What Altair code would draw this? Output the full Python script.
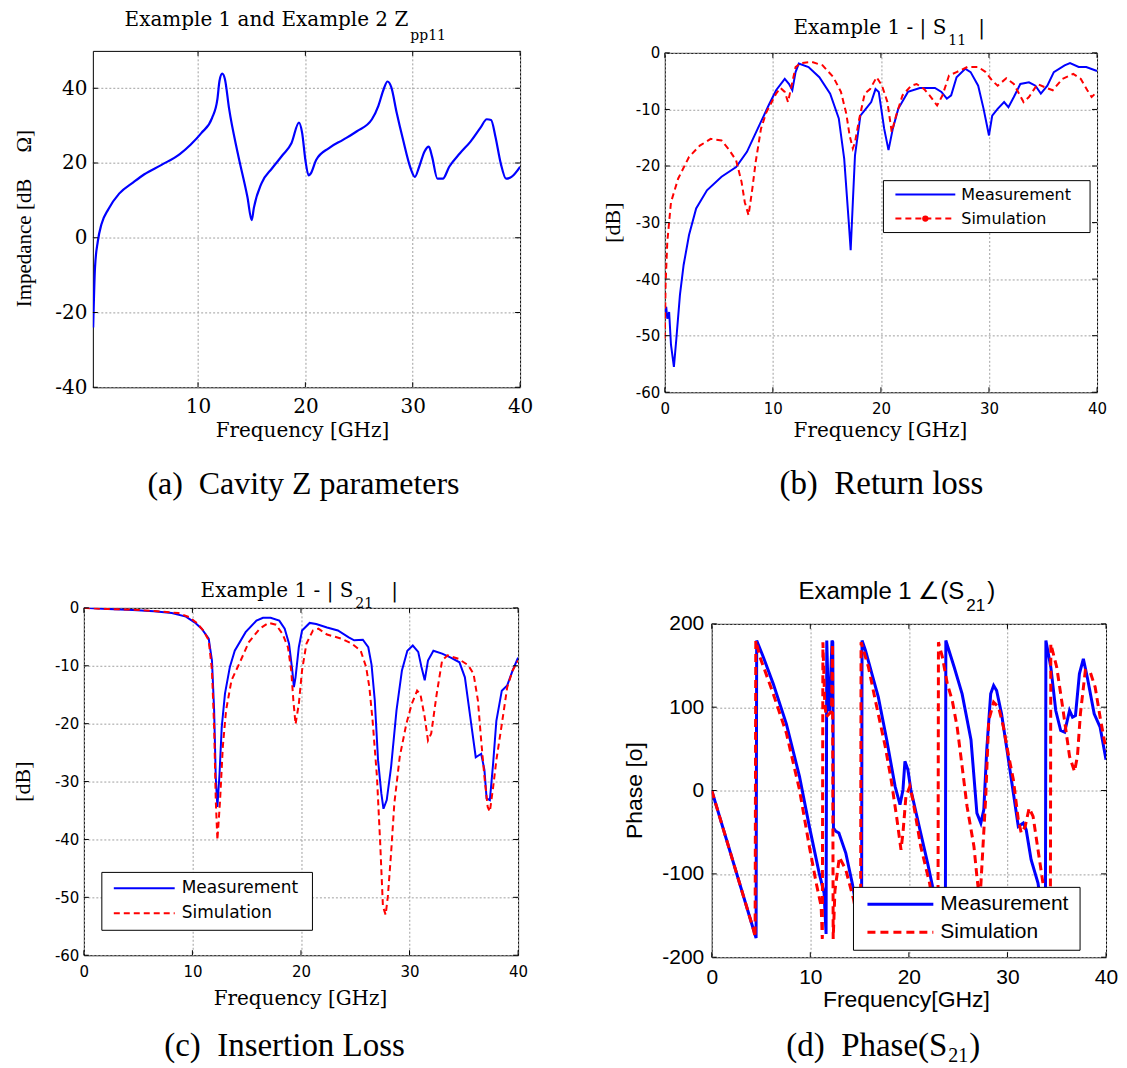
import altair as alt
import pandas as pd

# ---------------- data ----------------
# (a) Cavity Z parameters
A_freq = [0.23, 0.4, 0.66, 1.0, 1.66, 2.65, 4.0, 5.0, 6.6, 8.3, 9.3, 10.3, 11.3, 11.8, 12.0, 12.25, 12.5, 12.9,
          13.7, 14.6, 15.0, 15.2, 15.9, 16.9, 17.9, 18.7, 19.4, 19.7, 20.0, 20.3, 20.5, 21.0, 22.2, 23.5, 24.8,
          26.2, 26.8, 27.3, 27.65, 28.0, 28.5, 29.1, 29.8, 30.2, 30.6, 31.1, 31.5, 31.8, 32.3, 32.8, 33.4, 34.4,
          35.4, 36.3, 36.9, 37.3, 37.7, 38.2, 38.7, 39.2, 40.0]
A_imp = [-24, -8, -1, 3.6, 7.7, 11.8, 14.9, 17, 19.5, 22.4, 24.9, 28, 32, 37, 42, 43.9, 42.5, 34.4,
         22.6, 10.9, 4.7, 8, 14.5, 18.6, 22.2, 25.3, 30.8, 28, 20.8, 16.7, 17.2, 20.8, 24, 26.2, 28.5,
         31.7, 35.3, 39.8, 41.8, 40.3, 33.5, 26.2, 18.6, 16.3, 19, 23.1, 24.4, 21.7, 15.8, 15.8, 19, 22.6,
         25.8, 29.4, 31.7, 31.5, 27.1, 19.9, 15.8, 16.3, 19]

# (b) Return loss |S11|
B_meas_freq = [0, 0.13, 0.23, 0.4, 0.57, 0.84, 1.07, 1.4, 1.74, 2.24, 2.9, 3.9, 5.25, 6.6, 7.6, 8.6, 9.6, 10.3,
               11.1, 11.5, 11.8, 12.1, 12.4, 13.3, 14.3, 15.3, 16.1, 16.6, 17.0, 17.2, 17.4, 17.6, 18.1, 18.6,
               19.1, 19.5, 19.8, 20.3, 20.7, 21.1, 21.6, 22.5, 23.6, 25.0, 25.6, 26.1, 26.5, 27.0, 27.8, 28.3,
               29.0, 29.5, 30.0, 30.3, 30.8, 31.4, 31.8, 32.3, 32.9, 33.7, 34.3, 34.8, 35.4, 36.0, 37.0, 37.5,
               38.3, 39.0, 40]
B_meas_db = [-45.8, -44.9, -47, -45.8, -51.6, -55.5, -50.5, -42.8, -37.5, -32.2, -27.5, -24.3, -21.9, -20.2,
             -17.5, -13.4, -9.3, -6.6, -4.6, -5.5, -6.6, -3.4, -1.9, -2.5, -4.3, -7.2, -11.6, -18.7, -29.3,
             -34.9, -26.4, -18.1, -11.1, -9.9, -8.7, -6.4, -6.9, -13.4, -17.2, -13.4, -9.9, -6.9, -6.2, -6.2,
             -6.9, -8.1, -7.5, -4.3, -2.8, -3.4, -5.8, -9.9, -14.6, -11.1, -9.9, -8.7, -9.6, -7.8, -5.5, -5.2,
             -5.8, -7.2, -5.8, -3.4, -2.2, -1.8, -2.5, -2.5, -3.2]
B_sim_freq = [0, 0.07, 0.23, 0.57, 1.24, 2.24, 3.24, 4.25, 5.25, 5.9, 6.6, 7.1, 7.4, 7.75, 8.1, 8.4, 8.9, 9.4,
              10.3, 10.7, 11.1, 11.4, 11.8, 12.1, 12.6, 13.6, 14.6, 15.6, 16.3, 16.8, 17.1, 17.4, 17.6, 18.0,
              18.5, 19.0, 19.6, 20.1, 20.6, 21.0, 21.4, 22.0, 22.8, 23.3, 24.0, 24.5, 25.2, 25.7, 26.3, 27.0,
              28.0, 29.0, 29.7, 30.3, 30.8, 31.6, 32.3, 33.2, 33.7, 34.5, 35.2, 35.9, 36.8, 37.8, 38.5, 39.1,
              39.5, 40]
B_sim_db = [-50.5, -41, -33.4, -26.4, -22.2, -18.4, -16.4, -15.2, -15.5, -17, -19, -22.8, -26.4, -28.7, -24,
            -19.4, -13.4, -10.5, -7.2, -6.2, -6.9, -8.7, -5.2, -2.5, -1.8, -1.6, -2.2, -4.3, -6.9, -10.8,
            -14.6, -16.9, -15.8, -11.6, -7.2, -6.4, -4.3, -5.8, -8.7, -14, -11.1, -7.5, -5.8, -5.5, -6.4,
            -7.5, -9.3, -7.5, -4, -3.4, -2.5, -2.5, -3.4, -4.9, -5.8, -4.5, -5.5, -8.7, -7.8, -5.5, -6.1,
            -6.6, -4.6, -3.7, -4.6, -6.6, -7.8, -6.9]

# (c) Insertion loss |S21|
C_meas_freq = [0, 2.2, 4.5, 6.45, 8.1, 9.4, 10.2, 10.85, 11.5, 11.8, 12.0, 12.15, 12.3, 12.5, 12.7, 13.0, 13.45,
               13.9, 14.9, 15.9, 16.5, 17.2, 18.0, 18.5, 18.9, 19.2, 19.35, 19.5, 19.8, 20.1, 20.8, 21.4, 22.4,
               23.4, 24.4, 24.9, 25.7, 26.2, 26.5, 26.8, 27.1, 27.4, 27.6, 27.9, 28.3, 28.8, 29.3, 29.8, 30.3,
               30.8, 31.1, 31.4, 31.7, 32.2, 33.0, 33.8, 34.6, 35.1, 35.6, 36.1, 36.6, 36.9, 37.1, 37.4, 37.7,
               38.0, 38.5, 39.0, 39.5, 40.0]
C_meas_db = [0, -0.2, -0.35, -0.6, -0.9, -1.5, -2.5, -3.6, -5.3, -9.1, -17.7, -29.2, -34.4, -28.6, -20.6,
             -14.8, -10.2, -7.4, -4.2, -2.2, -1.7, -1.7, -2.2, -3.6, -6.2, -10.8, -13.7, -12, -6.8, -3.9,
             -2.6, -2.8, -3.4, -3.9, -5.1, -5.6, -5.5, -6.8, -9.8, -16, -26.3, -32, -34.7, -33.2, -27.5,
             -17.7, -10.8, -7.4, -6.5, -7.6, -10.2, -12.5, -9.1, -7.4, -7.9, -8.6, -9.4, -12, -18.9, -25.8,
             -25.2, -28, -32.9, -33.2, -26.9, -19.5, -14.3, -13.4, -10.8, -8.6]
C_sim_freq = [0, 2.2, 4.5, 6.8, 8.7, 9.7, 10.4, 11.0, 11.5, 11.8, 12.0, 12.15, 12.3, 12.55, 12.8, 13.1, 13.6,
              14.3, 15.2, 16.2, 17.0, 17.7, 18.3, 18.8, 19.1, 19.3, 19.5, 19.8, 20.1, 20.5, 21.1, 21.6, 22.4,
              23.7, 24.7, 25.5, 26.0, 26.3, 26.6, 27.0, 27.3, 27.55, 27.8, 28.0, 28.3, 28.6, 29.1, 29.7, 30.2,
              30.7, 31.0, 31.4, 31.7, 32.0, 32.5, 33.0, 33.5, 34.5, 35.4, 35.9, 36.3, 36.6, 36.9, 37.2, 37.4,
              37.7, 38.0, 38.5, 39.0, 39.5, 40.0]
C_sim_db = [0, -0.2, -0.3, -0.6, -0.9, -1.6, -2.6, -3.9, -5.6, -10.8, -20.6, -33.2, -40.1, -33.2, -24, -17.7,
            -12.5, -9.7, -5.9, -3.6, -2.6, -2.9, -4.5, -6.8, -10.8, -16, -20.1, -16.6, -10.8, -6.2, -3.9,
            -3.6, -4.6, -5.3, -6.2, -7.4, -10.2, -13.7, -19.5, -29.2, -40.7, -51.6, -53, -49.9, -42.4,
            -33.8, -25.7, -20.1, -16.6, -14.3, -14.9, -18.9, -22.9, -21.7, -14.9, -9.1, -8.2, -8.8, -9.9,
            -11.4, -16, -22.9, -29.2, -34.4, -35.2, -31, -26.3, -20.1, -13.7, -10.8, -9.1]

# (d) Phase(S21)
D_meas_freq = [0, 4.24, 4.5, 4.56, 5.24, 6.24, 7.57, 8.9, 9.9, 10.9, 11.4, 11.6, 11.67, 11.8, 11.95, 12.2,
               12.28, 12.35, 12.6, 12.9, 13.6, 14.25, 15.2, 15.25, 15.6, 16.25, 16.9, 17.75, 18.6, 19.1, 19.4,
               19.6, 19.9, 20.2, 21.2, 21.9, 22.4, 23.7, 23.75, 24.6, 25.4, 26.3, 26.9, 27.3, 27.6, 27.9,
               28.3, 28.6, 28.9, 29.4, 29.9, 30.6, 31.1, 31.6, 31.9, 32.4, 33.1, 33.85, 33.9, 34.4, 34.9,
               35.4, 35.8, 36.3, 36.6, 36.9, 37.3, 37.7, 38.1, 38.8, 39.4, 40]
D_meas_deg = [0, -167, -177, 180, 160, 128, 80, 17, -43, -99, -123, -172, 180, 120, 95, 180, 178, -45, -49,
              -51, -75, -111, -176, 180, 168, 140, 112, 61, 5, -17, 1, 35, 25, 1, -51, -87, -115, -178, 180,
              148, 116, 61, -27, -39, -23, 49, 116, 126, 120, 92, 53, -3, -43, -39, -47, -83, -111, -178,
              180, 148, 96, 72, 70, 96, 88, 90, 140, 158, 136, 92, 76, 37]
D_sim_freq = [0, 4.24, 4.4, 4.47, 4.9, 6.24, 7.57, 8.9, 9.9, 10.6, 11.1, 11.22, 11.28, 11.45, 11.6, 12.15,
              12.25, 12.32, 12.5, 12.95, 13.6, 14.4, 15.1, 15.15, 15.9, 16.6, 17.6, 18.2, 18.75, 19.2, 19.4,
              19.7, 20.1, 20.4, 21.2, 22.1, 22.95, 23.0, 23.4, 23.9, 24.4, 24.9, 25.4, 25.9, 26.6, 26.9,
              27.2, 27.8, 28.1, 28.6, 29.1, 29.6, 30.0, 30.6, 31.1, 31.4, 31.8, 32.2, 32.6, 33.1, 33.6,
              34.35, 34.4, 35.0, 35.6, 36.3, 36.8, 37.1, 37.4, 37.9, 38.4, 38.9, 39.4, 40]
D_sim_deg = [0, -167, -176, 180, 160, 116, 69, 1, -67, -111, -139, -178, 178, 110, 88, 95, 176, -178, -120,
             -80, -95, -131, -178, 178, 148, 108, 53, 13, -31, -71, -51, -7, 5, -11, -67, -111, -178, 178,
             160, 128, 108, 76, 29, -19, -67, -103, -135, -7, 84, 106, 100, 76, 49, 13, -35, -51, -43, -21,
             -31, -71, -111, -178, 176, 148, 100, 41, 23, 41, 92, 144, 142, 124, 88, 49]

# tick values
A_X_TICKS = [10, 20, 30, 40]
A_Y_TICKS = [-40, -20, 0, 20, 40]
X_TICKS = [0, 10, 20, 30, 40]
DB_TICKS = [-60, -50, -40, -30, -20, -10, 0]
PH_TICKS = [-200, -100, 0, 100, 200]

# ---------------- styling ----------------
BLUE = "#0000ff"
RED = "#ff0000"
SERIF_W = "DejaVu Serif"
SANS_W = "DejaVu Sans"
SANS = "Liberation Sans"
TIMES = "Liberation Serif"
NB = "\u00a0"

ONE = pd.DataFrame({"k": [0]})


def text(s, x, y, size, font, align="center", baseline="alphabetic", angle=0):
    return alt.Chart(ONE).mark_text(
        text=s, font=font, fontSize=size, align=align, baseline=baseline, angle=angle, color="black"
    ).encode(x=alt.value(x), y=alt.value(y))


def axis(values, font, size, pad):
    return alt.Axis(values=values, title=None, labelFont=font, labelFontSize=size, labelColor="black",
                    labelPadding=pad, labelFlush=False, labelOverlap=False, labelBound=False,
                    ticks=False, domain=False, grid=True, gridColor="#a0a0a0", gridDash=[2, 2],
                    gridWidth=1, labelExpr="datum.value + ''")


def xenc(field, dom, ax):
    return alt.X(field, scale=alt.Scale(domain=dom, nice=False, zero=False), axis=ax)


def yenc(field, dom, ax):
    return alt.Y(field, scale=alt.Scale(domain=dom, nice=False, zero=False), axis=ax)


def series(freq, vals, xdom, ydom, xaxis, yaxis, color, width, dash=None, interp="linear"):
    df = pd.DataFrame({"f": freq, "v": vals})
    df["i"] = range(len(df))
    kw = dict(color=color, strokeWidth=width, interpolate=interp, clip=True)
    if dash:
        kw["strokeDash"] = dash
    return alt.Chart(df).mark_line(**kw).encode(
        x=xenc("f:Q", xdom, xaxis), y=yenc("v:Q", ydom, yaxis), order="i:Q")


def inward_ticks(xvals, yvals, xdom, ydom, xaxis, yaxis, W, H, L=5):
    dx = pd.DataFrame({"f": xvals})
    dy = pd.DataFrame({"v": yvals})
    st = dict(color="black", strokeWidth=1)
    return [
        alt.Chart(dx).mark_rule(**st).encode(x=xenc("f:Q", xdom, xaxis), y=alt.value(0), y2=alt.value(L)),
        alt.Chart(dx).mark_rule(**st).encode(x=xenc("f:Q", xdom, xaxis), y=alt.value(H - L), y2=alt.value(H)),
        alt.Chart(dy).mark_rule(**st).encode(y=yenc("v:Q", ydom, yaxis), x=alt.value(0), x2=alt.value(L)),
        alt.Chart(dy).mark_rule(**st).encode(y=yenc("v:Q", ydom, yaxis), x=alt.value(W - L), x2=alt.value(W)),
    ]


def legend(box, lx, ys, tx, size, font, lw, dash, dot=False):
    x0, x1, y0, y1 = box
    layers = [
        alt.Chart(ONE).mark_rect(fill="white", stroke="black", strokeWidth=1).encode(
            x=alt.value(x0), x2=alt.value(x1), y=alt.value(y0), y2=alt.value(y1)),
        alt.Chart(ONE).mark_rule(color=BLUE, strokeWidth=lw).encode(
            x=alt.value(lx[0]), x2=alt.value(lx[1]), y=alt.value(ys[0])),
        alt.Chart(ONE).mark_rule(color=RED, strokeWidth=lw, strokeDash=dash).encode(
            x=alt.value(lx[0]), x2=alt.value(lx[1]), y=alt.value(ys[1])),
        text("Measurement", tx, ys[0], size, font, align="left", baseline="middle"),
        text("Simulation", tx, ys[1], size, font, align="left", baseline="middle"),
    ]
    if dot:
        layers.append(alt.Chart(ONE).mark_point(filled=True, color=RED, size=40, opacity=1).encode(
            x=alt.value((lx[0] + lx[1]) / 2), y=alt.value(ys[1])))
    return layers


def anchor(x0, y0, y1):
    # invisible layout helper (controls the bounds used by the concat layout)
    return alt.Chart(ONE).mark_rect(opacity=0).encode(
        x=alt.value(x0), x2=alt.value(x0 + 1), y=alt.value(y0), y2=alt.value(y1))


def spacer(w, h, anc=None):
    mark = anc if anc is not None else anchor(0, 0, 1)
    return mark.properties(width=w, height=h, view=alt.ViewBackground(strokeOpacity=0))


# ---------------- panel (a) ----------------
WA, HA = 428, 337
xa = axis(A_X_TICKS, SERIF_W, 20, 9)
ya = axis(A_Y_TICKS, SERIF_W, 20, 6)
panel_a = alt.layer(
    series(A_freq, A_imp, [0.2, 40], [-40, 50], xa, ya, BLUE, 2.2, interp="monotone"),
    *inward_ticks(A_X_TICKS, A_Y_TICKS, [0.2, 40], [-40, 50], xa, ya, WA, HA),
    text("Example 1 and Example 2 Z", 316, -25, 20, SERIF_W, align="right"),
    text("pp11", 318, -11, 14, SERIF_W, align="left"),
    text("Impedance [dB" + NB * 5 + "\u03a9]", -68, 168, 21, TIMES, baseline="middle", angle=270),
    text("Frequency [GHz]", 210, 387, 20, SERIF_W),
    text("(a)" + NB * 2 + "Cavity Z parameters", 211, 444, 32, TIMES),
).properties(width=WA, height=HA)

# ---------------- panel (b) ----------------
WB, HB = 433, 340
xb = axis(X_TICKS, SANS_W, 15, 9)
yb = axis(DB_TICKS, SANS_W, 15, 5)
panel_b = alt.layer(
    series(B_meas_freq, B_meas_db, [0, 40], [-60, 0], xb, yb, BLUE, 2),
    series(B_sim_freq, B_sim_db, [0, 40], [-60, 0], xb, yb, RED, 2, dash=[6, 4]),
    *inward_ticks(X_TICKS, DB_TICKS, [0, 40], [-60, 0], xb, yb, WB, HB),
    *legend((219, 426, 128, 180), (231, 291), (142, 166), 297, 16, SANS_W, 2, [6, 4], dot=True),
    text("Example 1 - | S", 282, -19, 20, SERIF_W, align="right"),
    text("11", 284, -8, 14, SERIF_W, align="left"),
    text("|", 314, -19, 20, SERIF_W, align="left"),
    text("[dB]", -52, 170, 22, TIMES, baseline="middle", angle=270),
    text("Frequency [GHz]", 216, 385, 20, SERIF_W),
    text("(b)" + NB * 2 + "Return loss", 217, 442, 33, TIMES),
).properties(width=WB, height=HB)

# ---------------- panel (c) ----------------
WC, HC = 435, 348
xc = axis(X_TICKS, SANS_W, 15, 9)
yc = axis(DB_TICKS, SANS_W, 15, 5)
panel_c = alt.layer(
    series(C_meas_freq, C_meas_db, [0, 40], [-60, 0], xc, yc, BLUE, 2),
    series(C_sim_freq, C_sim_db, [0, 40], [-60, 0], xc, yc, RED, 2, dash=[6, 4]),
    *inward_ticks(X_TICKS, DB_TICKS, [0, 40], [-60, 0], xc, yc, WC, HC),
    *legend((18, 229, 265, 323), (30, 91), (281, 306), 98, 17, SANS_W, 2, [6, 4]),
    text("Example 1 - | S", 270, -11, 20, SERIF_W, align="right"),
    text("21", 272, 0, 14, SERIF_W, align="left"),
    text("|", 308, -11, 20, SERIF_W, align="left"),
    text("[dB]", -61, 174, 22, TIMES, baseline="middle", angle=270),
    text("Frequency [GHz]", 217, 398, 20, SERIF_W),
    text("(c)" + NB * 2 + "Insertion Loss", 201, 449, 33, TIMES),
    anchor(-75, -50, -49),
).properties(width=WC, height=HC)

# ---------------- panel (d) ----------------
WD, HD = 395, 334
xd = axis(X_TICKS, SANS, 21, 9)
yd = axis(PH_TICKS, SANS, 21, 8)
panel_d = alt.layer(
    series(D_meas_freq, D_meas_deg, [0, 40], [-200, 200], xd, yd, BLUE, 3),
    series(D_sim_freq, D_sim_deg, [0, 40], [-200, 200], xd, yd, RED, 3, dash=[8, 5]),
    *inward_ticks(X_TICKS, PH_TICKS, [0, 40], [-200, 200], xd, yd, WD, HD),
    *legend((142, 369, 264, 327), (156, 222), (281, 309), 229, 21, SANS, 3, [8, 5]),
    text("Example 1 \u2220(S", 253, -25, 24, SANS, align="right"),
    text("21", 255, -13, 17, SANS, align="left"),
    text(")", 276, -25, 24, SANS, align="left"),
    text("Phase [o]", -77, 167, 23, SANS, baseline="middle", angle=270),
    text("Frequency[GHz]", 195, 384, 23, SANS),
    text("(d)" + NB * 2 + "Phase(S", 236, 433, 33, TIMES, align="right"),
    text("21", 237, 439, 20, TIMES, align="left"),
    text(")", 258, 433, 33, TIMES, align="left"),
).properties(width=WD, height=HD)

# ---------------- layout ----------------
row1 = alt.hconcat(
    spacer(9, 1, anchor(-75, -42, 470)), panel_a, spacer(145, 1),
    alt.vconcat(spacer(1, 2), panel_b, spacing=0, bounds="flush"),
    spacing=0, bounds="flush")
row2 = alt.hconcat(
    panel_c, spacer(194, 1),
    alt.vconcat(spacer(1, 16), panel_d, spacing=0, bounds="flush"),
    spacing=0, bounds="flush")

chart = alt.vconcat(row1, row2, spacing=37, bounds="full").properties(
    padding={"left": 0, "top": 0, "right": 0, "bottom": 0}
).configure_view(stroke="black", strokeWidth=1)

chart.save("out.html", embed_options={"renderer": "svg", "actions": False})
